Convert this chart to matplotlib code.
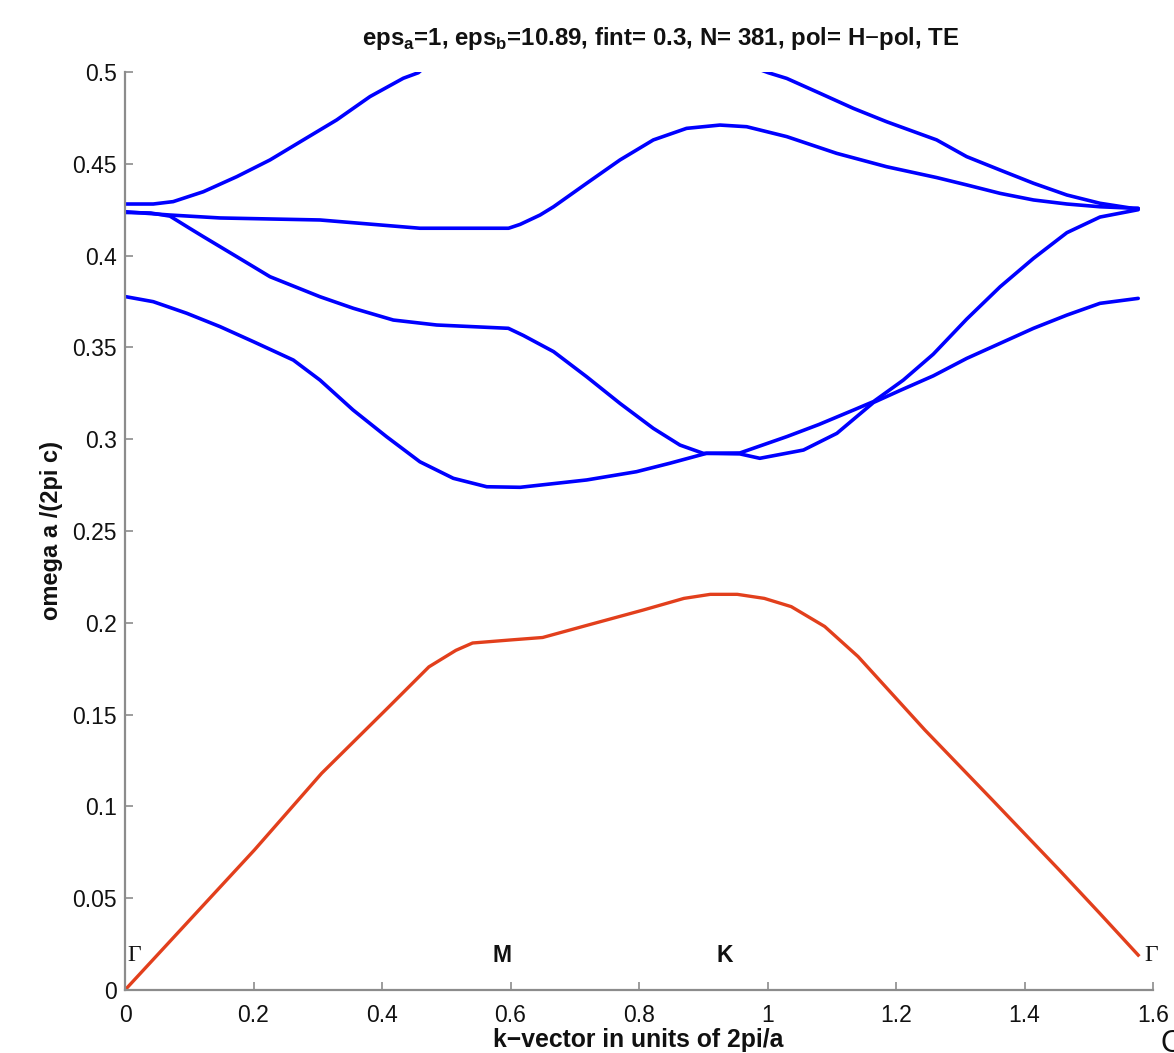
import numpy as np
import matplotlib
matplotlib.use("Agg")
import matplotlib.pyplot as plt

plt.rcParams['font.family'] = ['Liberation Sans', 'DejaVu Sans']
plt.rcParams['mathtext.fontset'] = 'custom'
plt.rcParams['mathtext.rm'] = 'Liberation Sans'
plt.rcParams['mathtext.bf'] = 'Liberation Sans:bold'

# ---- data (k in units of 2pi/a, omega a/(2 pi c)) ----
band1_k = [0.0, 0.2015, 0.306, 0.410, 0.473, 0.515, 0.541, 0.598, 0.650, 0.723, 0.807,
           0.870, 0.911, 0.953, 0.995, 1.037, 1.089, 1.141, 1.193, 1.245, 1.350, 1.454,
           1.517, 1.577]
band1_w = [0.0, 0.0763, 0.118, 0.154, 0.176, 0.185, 0.189, 0.1906, 0.192, 0.199, 0.207,
           0.2133, 0.2155, 0.2155, 0.2133, 0.2088, 0.198, 0.1816, 0.1616, 0.1416, 0.1035,
           0.0654, 0.0418, 0.0190]

band2_k = [0.0, 0.044, 0.096, 0.148, 0.200, 0.262, 0.3035, 0.355, 0.407, 0.459, 0.511,
           0.563, 0.615, 0.7186, 0.796, 0.848, 0.905, 0.957, 0.988, 1.056, 1.108, 1.165,
           1.206, 1.258, 1.310, 1.362, 1.414, 1.466, 1.5175, 1.577]
band2_w = [0.3777, 0.3749, 0.3686, 0.3613, 0.3531, 0.3431, 0.3322, 0.3159, 0.3014, 0.2877,
           0.2787, 0.2741, 0.2738, 0.2778, 0.2823, 0.2869, 0.2923, 0.2920, 0.2896, 0.2941,
           0.3032, 0.3200, 0.3265, 0.3345, 0.3440, 0.3522, 0.3604, 0.3676, 0.3740, 0.3767]

band3_k = [0.0, 0.040, 0.070, 0.100, 0.122, 0.174, 0.2257, 0.3035, 0.3554, 0.4176, 0.485,
           0.5966, 0.620, 0.667, 0.7186, 0.7704, 0.8223, 0.8638, 0.900, 0.957, 1.030, 1.080,
           1.134, 1.165, 1.2114, 1.258, 1.310, 1.362, 1.414, 1.466, 1.5175, 1.577]
band3_w = [0.4235, 0.4232, 0.4215, 0.4150, 0.4103, 0.3994, 0.3885, 0.3776, 0.3713, 0.3649,
           0.3622, 0.3604, 0.3565, 0.3477, 0.3340, 0.3195, 0.3059, 0.2968, 0.2923, 0.2925,
           0.3014, 0.3080, 0.3159, 0.3205, 0.3322, 0.3463, 0.3654, 0.3830, 0.3985, 0.4125,
           0.4210, 0.4250]

band4_k = [0.0, 0.070, 0.148, 0.3035, 0.459, 0.597, 0.615, 0.646, 0.667, 0.7186, 0.7704,
           0.8223, 0.874, 0.926, 0.9676, 1.030, 1.1076, 1.1855, 1.2633, 1.310, 1.362, 1.414,
           1.466, 1.5175, 1.577]
band4_w = [0.4239, 0.4221, 0.4205, 0.4194, 0.4149, 0.4149, 0.4170, 0.4221, 0.4266, 0.4394,
           0.4521, 0.4630, 0.4693, 0.4711, 0.4702, 0.4648, 0.4557, 0.4484, 0.4425, 0.4385,
           0.4339, 0.4303, 0.4281, 0.4266, 0.4257]

band5a_k = [0.0, 0.044, 0.075, 0.122, 0.174, 0.2257, 0.2775, 0.3295, 0.3813, 0.4332,
            0.4565, 0.49]
band5a_w = [0.4281, 0.4281, 0.4294, 0.4348, 0.4430, 0.4521, 0.4630, 0.4739, 0.4866, 0.4966,
            0.4996, 0.5100]
band5b_k = [0.96, 1.0013, 1.030, 1.0817, 1.1336, 1.1855, 1.2633, 1.310, 1.362, 1.414,
            1.466, 1.5175, 1.569, 1.577]
band5b_w = [0.5050, 0.4996, 0.4965, 0.4884, 0.4802, 0.4729, 0.4630, 0.4539, 0.4466, 0.4394,
            0.4330, 0.4285, 0.4257, 0.4257]

xticks = [0, 0.2, 0.4, 0.6, 0.8, 1.0, 1.2, 1.4, 1.6]
xticklabels = ["0", "0.2", "0.4", "0.6", "0.8", "1", "1.2", "1.4", "1.6"]
yticks = [0, 0.05, 0.1, 0.15, 0.2, 0.25, 0.3, 0.35, 0.4, 0.45, 0.5]
yticklabels = ["0", "0.05", "0.1", "0.15", "0.2", "0.25", "0.3", "0.35", "0.4", "0.45", "0.5"]

sym_labels = ["\u0393", "M", "K", "\u0393"]
sym_k = [0.003, 0.572, 0.921, 1.586]
sym_w = [0.019, 0.019, 0.019, 0.019]

title = r"eps$_\mathbf{a}$=1, eps$_\mathbf{b}$=10.89, fint= 0.3, N= 381, pol= H$-$pol, TE"

# ---- figure ----
fig = plt.figure(figsize=(11.74, 10.53), dpi=100)
ax = fig.add_axes([125/1174, 63/1053, (1153-125)/1174, (990-72)/1053])

blue = '#0000ff'
for kk, ww in [(band2_k, band2_w), (band3_k, band3_w), (band4_k, band4_w),
               (band5a_k, band5a_w), (band5b_k, band5b_w)]:
    ax.plot(kk, ww, color=blue, lw=2.6, solid_joinstyle='round', solid_capstyle='round')
ax.plot(band1_k, band1_w, color='#e23f1c', lw=2.4, solid_joinstyle='round')

ax.set_xlim(0, 1.6)
ax.set_ylim(0, 0.5)
ax.set_xticks(xticks)
ax.set_xticklabels(xticklabels)
ax.set_yticks(yticks)
ax.set_yticklabels(yticklabels)

for s in ['top', 'right']:
    ax.spines[s].set_visible(False)
for s in ['left', 'bottom']:
    ax.spines[s].set_color('#8c8c8c')
    ax.spines[s].set_linewidth(1.6)
ax.tick_params(direction='in', length=6, width=1.2, color='#8c8c8c',
               labelsize=16.5, labelcolor='#111111')
ax.tick_params(axis='x', pad=10)
ax.tick_params(axis='y', pad=6)

for lab, kx, wy in zip(sym_labels, sym_k, sym_w):
    if lab == "\u0393":
        ax.text(kx, wy, lab, family=['Liberation Serif', 'DejaVu Serif'], fontsize=17,
                ha='left', va='center', color='#111111', clip_on=False)
    else:
        ax.text(kx, wy, lab, fontsize=16.5, fontweight='bold', ha='left', va='center',
                color='#111111', clip_on=False)

fig.text(661/1174, 1 - 38/1053, title, ha='center', va='center', fontsize=17.3,
         fontweight='bold', color='#111111')
fig.text(638/1174, 1 - 1040/1053, "k\u2212vector in units of 2pi/a", ha='center',
         va='center', fontsize=17.8, fontweight='bold', color='#111111')
fig.text(52/1174, 1 - 531/1053, "omega a /(2pi c)", ha='center', va='center',
         rotation=90, fontsize=17, fontweight='bold', color='#111111')
fig.text(1160/1174, -6/1053, "C", ha='left', va='bottom', fontsize=22, color='#111111')

fig.savefig("out.png", dpi=100)
